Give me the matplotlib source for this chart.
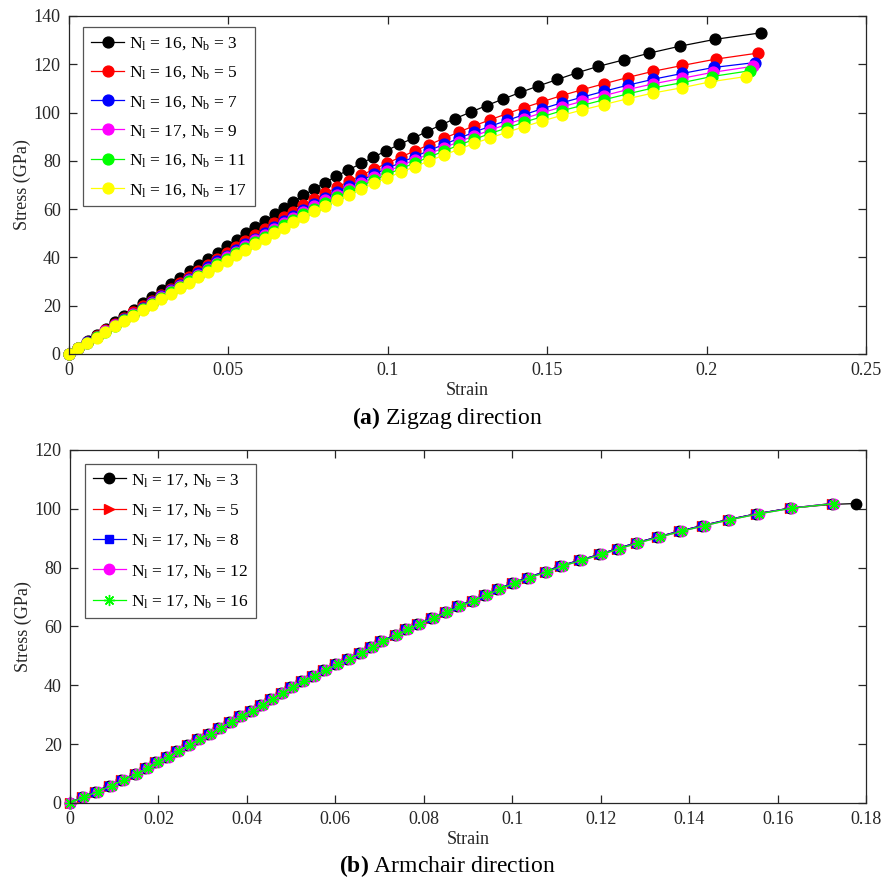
import matplotlib
matplotlib.use("Agg")
import matplotlib.pyplot as plt
from matplotlib.ticker import FuncFormatter, MultipleLocator

plt.rcParams['font.family'] = ['Liberation Serif', 'DejaVu Serif']
plt.rcParams['mathtext.fontset'] = 'custom'
plt.rcParams['mathtext.rm'] = 'Liberation Serif'
plt.rcParams['mathtext.it'] = 'Liberation Serif:italic'
plt.rcParams['mathtext.bf'] = 'Liberation Serif:bold'

# ---------------- (a) zigzag direction ----------------
zz_labels = [r'$\mathrm{N_l}$ = 16, $\mathrm{N_b}$ = 3',
             r'$\mathrm{N_l}$ = 16, $\mathrm{N_b}$ = 5',
             r'$\mathrm{N_l}$ = 16, $\mathrm{N_b}$ = 7',
             r'$\mathrm{N_l}$ = 17, $\mathrm{N_b}$ = 9',
             r'$\mathrm{N_l}$ = 16, $\mathrm{N_b}$ = 11',
             r'$\mathrm{N_l}$ = 16, $\mathrm{N_b}$ = 17']
zz_colors = ['black', 'red', 'blue', 'magenta', '#00ff00', 'yellow']

zz_strain_nb3 = [0, 0.00284, 0.00580, 0.00866, 0.01152, 0.01438, 0.01736, 0.02024, 0.02313,
                 0.02612, 0.02901, 0.03191, 0.03481, 0.03783, 0.04074, 0.04366, 0.04658,
                 0.04963, 0.05256, 0.05551, 0.05845, 0.06152, 0.06447, 0.06743, 0.07041,
                 0.07349, 0.0769, 0.0803, 0.0838, 0.0876, 0.0916, 0.0955, 0.0994, 0.1036,
                 0.1080, 0.1122, 0.1166, 0.1211, 0.1261, 0.1310, 0.1362, 0.1415, 0.1472,
                 0.1532, 0.1592, 0.1660, 0.1740, 0.1820, 0.1917, 0.2026, 0.2170]
zz_stress_nb3 = [0, 2.6, 5.3, 7.9, 10.5, 13.1, 15.8, 18.4, 21.0, 23.7, 26.3, 28.9, 31.5,
                 34.2, 36.8, 39.4, 42.0, 44.7, 47.3, 49.9, 52.5, 55.2, 57.8, 60.4, 63.0,
                 65.7, 68.3, 71.0, 73.6, 76.2, 78.9, 81.5, 84.1, 86.8, 89.4, 92.1, 94.8,
                 97.5, 100.2, 102.9, 105.6, 108.3, 111.0, 113.7, 116.4, 119.1, 121.8,
                 124.6, 127.5, 130.3, 133.0]

# strains shared by the Nb = 5 ... 17 curves (up to the last two points)
zz_strain_base = [0, 0.00291, 0.00571, 0.00863, 0.01144, 0.01437, 0.01731, 0.02014, 0.02309,
                  0.02593, 0.02889, 0.03186, 0.03472, 0.03770, 0.04057, 0.04356, 0.04656,
                  0.04944, 0.05246, 0.05535, 0.05838, 0.06141, 0.06432, 0.06736, 0.07029,
                  0.0733, 0.0767, 0.0803, 0.0840, 0.0878, 0.0917, 0.0958, 0.0999, 0.1041,
                  0.1085, 0.1130, 0.1176, 0.1223, 0.1271, 0.1321, 0.1373, 0.1427, 0.1485,
                  0.1545, 0.1608, 0.1678, 0.1752, 0.1833, 0.1924]
zz_strain_nb5 = zz_strain_base + [0.2028, 0.2160]
zz_strain_nb7 = zz_strain_base + [0.2024, 0.2152]
zz_strain_nb9 = zz_strain_base + [0.2021, 0.2144]
zz_strain_nb11 = zz_strain_base + [0.2016, 0.2136]
zz_strain_nb17 = zz_strain_base + [0.2011, 0.2123]

zz_stress_nb5 = [0, 2.5, 4.9, 7.4, 9.8, 12.3, 14.8, 17.2, 19.7, 22.1, 24.6, 27.1, 29.5, 32.0,
                 34.4, 36.9, 39.4, 41.8, 44.3, 46.7, 49.2, 51.7, 54.1, 56.6, 59.0, 61.5,
                 64.0, 66.5, 69.0, 71.5, 74.0, 76.6, 79.1, 81.6, 84.1, 86.7, 89.3, 91.9,
                 94.5, 97.0, 99.5, 102.0, 104.5, 107.0, 109.4, 111.9, 114.5, 117.1, 119.5,
                 122.1, 124.6]
zz_stress_nb7 = [0, 2.4, 4.8, 7.2, 9.5, 12.0, 14.4, 16.7, 19.1, 21.5, 23.9, 26.3, 28.7, 31.1,
                 33.4, 35.9, 38.3, 40.6, 43.1, 45.4, 47.8, 50.3, 52.6, 55.0, 57.3, 59.8,
                 62.2, 64.6, 67.1, 69.5, 71.9, 74.5, 76.9, 79.3, 81.7, 84.3, 86.8, 89.3,
                 91.9, 94.3, 96.7, 99.1, 101.6, 104.0, 106.3, 108.8, 111.3, 113.8, 116.2,
                 118.7, 120.7]
zz_stress_nb9 = [0, 2.4, 4.7, 7.1, 9.4, 11.8, 14.1, 16.4, 18.8, 21.1, 23.5, 25.9, 28.2, 30.6,
                 32.9, 35.3, 37.7, 40.0, 42.4, 44.6, 47.0, 49.4, 51.7, 54.1, 56.4, 58.8,
                 61.2, 63.6, 66.0, 68.4, 70.7, 73.2, 75.6, 78.0, 80.4, 82.9, 85.4, 87.9,
                 90.3, 92.7, 95.1, 97.5, 99.9, 102.3, 104.6, 107.0, 109.5, 111.9, 114.2,
                 116.7, 119.1]
zz_stress_nb11 = [0, 2.4, 4.6, 7.0, 9.2, 11.6, 13.9, 16.2, 18.5, 20.8, 23.1, 25.5, 27.8, 30.1,
                  32.4, 34.7, 37.1, 39.3, 41.7, 43.9, 46.3, 48.6, 50.9, 53.3, 55.5, 57.9,
                  60.2, 62.6, 64.9, 67.3, 69.6, 72.1, 74.4, 76.8, 79.1, 81.6, 84.0, 86.5,
                  88.9, 91.3, 93.6, 96.0, 98.3, 100.7, 102.9, 105.3, 107.7, 110.2, 112.4,
                  114.9, 117.3]
zz_stress_nb17 = [0, 2.3, 4.5, 6.8, 9.0, 11.4, 13.7, 15.9, 18.2, 20.4, 22.7, 25.0, 27.2, 29.5,
                  31.8, 34.1, 36.4, 38.6, 40.9, 43.1, 45.4, 47.7, 49.9, 52.2, 54.5, 56.8,
                  59.1, 61.4, 63.7, 66.0, 68.3, 70.7, 73.0, 75.3, 77.6, 80.0, 82.4, 84.8,
                  87.2, 89.5, 91.8, 94.1, 96.5, 98.8, 101.0, 103.3, 105.7, 108.1, 110.3,
                  112.7, 114.9]

zz_strains = [zz_strain_nb3, zz_strain_nb5, zz_strain_nb7, zz_strain_nb9, zz_strain_nb11, zz_strain_nb17]
zz_stresses = [zz_stress_nb3, zz_stress_nb5, zz_stress_nb7, zz_stress_nb9, zz_stress_nb11, zz_stress_nb17]

# ---------------- (b) armchair direction ----------------
ac_labels = [r'$\mathrm{N_l}$ = 17, $\mathrm{N_b}$ = 3',
             r'$\mathrm{N_l}$ = 17, $\mathrm{N_b}$ = 5',
             r'$\mathrm{N_l}$ = 17, $\mathrm{N_b}$ = 8',
             r'$\mathrm{N_l}$ = 17, $\mathrm{N_b}$ = 12',
             r'$\mathrm{N_l}$ = 17, $\mathrm{N_b}$ = 16']
ac_colors = ['black', 'red', 'blue', 'magenta', '#00ff00']
ac_markers = ['o', '>', 's', 'o', (8, 2, 0)]
ac_msizes = [7.5, 7.5, 5.5, 7.5, 8]

ac_strain = [0, 0.0032, 0.0063, 0.0095, 0.0122, 0.0152, 0.0176, 0.0199, 0.0224, 0.0246,
             0.0271, 0.0294, 0.0319, 0.0341, 0.0366, 0.0389, 0.0414, 0.0436, 0.0459, 0.0482,
             0.0504, 0.0529, 0.0554, 0.0579, 0.0606, 0.0633, 0.0660, 0.0685, 0.0708, 0.0740,
             0.0764, 0.0791, 0.0823, 0.0853, 0.0882, 0.0914, 0.0943, 0.0972, 0.1006, 0.1040,
             0.1079, 0.1115, 0.1158, 0.1203, 0.1244, 0.1285, 0.1334, 0.1384, 0.1436, 0.1493,
             0.1558, 0.1633, 0.1728]
ac_strain_left = [0, 0.0027, 0.0057, 0.0089, 0.0116, 0.0146, 0.0170, 0.0193, 0.0218, 0.0240,
                  0.0265, 0.0288, 0.0313, 0.0335, 0.0360, 0.0383, 0.0408, 0.0430, 0.0453, 0.0476,
                  0.0498, 0.0523, 0.0548, 0.0573, 0.0600, 0.0627, 0.0654, 0.0679, 0.0702, 0.0734,
                  0.0758, 0.0785, 0.0817, 0.0847, 0.0876, 0.0908, 0.0937, 0.0966, 0.1000, 0.1034,
                  0.1073, 0.1109, 0.1152, 0.1197, 0.1238, 0.1279, 0.1328, 0.1378, 0.1430, 0.1487,
                  0.1552, 0.1627, 0.1722]
ac_stress = [0, 2.0, 3.9, 5.9, 7.9, 9.8, 11.8, 13.8, 15.7, 17.7, 19.7, 21.6, 23.6, 25.5,
             27.5, 29.5, 31.4, 33.4, 35.4, 37.3, 39.3, 41.3, 43.2, 45.2, 47.2, 49.1, 51.1,
             53.1, 55.0, 57.0, 59.0, 60.9, 62.9, 64.8, 66.8, 68.8, 70.7, 72.7, 74.7, 76.6,
             78.6, 80.6, 82.5, 84.5, 86.5, 88.4, 90.4, 92.4, 94.3, 96.3, 98.3, 100.2, 101.8]

ac_strain_nb3 = ac_strain_left + [0.1777]
ac_stress_nb3 = ac_stress[:-1] + [101.5, 101.8]
ac_strains = [ac_strain_nb3, ac_strain_left, ac_strain_left, ac_strain, ac_strain]
ac_stresses = [ac_stress_nb3, ac_stress, ac_stress, ac_stress, ac_stress]

fmt = FuncFormatter(lambda v, p: '%g' % round(v, 4))
axcol = '#262626'


def style_axes(ax, xmax, xstep, ymax):
    ax.set_xlim(0, xmax)
    ax.set_ylim(0, ymax)
    ax.xaxis.set_major_locator(MultipleLocator(xstep))
    ax.yaxis.set_major_locator(MultipleLocator(20))
    ax.xaxis.set_major_formatter(fmt)
    ax.tick_params(direction='in', top=True, right=True, length=6, width=0.9,
                   labelsize=13, colors=axcol, pad=6)
    for s in ax.spines.values():
        s.set_linewidth(0.9)
        s.set_color(axcol)
    ax.set_xlabel('Strain', fontsize=13, color=axcol, labelpad=2)
    ax.set_ylabel('Stress (GPa)', fontsize=13, color=axcol, labelpad=2)


fig = plt.figure(figsize=(8.94, 8.86), dpi=100)
ax1 = fig.add_axes([0.0772, 0.6005, 0.8915, 0.3815])
ax2 = fig.add_axes([0.0783, 0.0937, 0.8904, 0.3984])

for x, y, c, lab in zip(zz_strains, zz_stresses, zz_colors, zz_labels):
    ax1.plot(x, y, '-o', color=c, mfc=c, mec=c, ms=7.8, lw=0.9, label=lab, clip_on=False)
style_axes(ax1, 0.25, 0.05, 140)
leg1 = ax1.legend(loc='upper left', bbox_to_anchor=(0.018, 0.966), fontsize=12.5,
                  fancybox=False, edgecolor='#555555', framealpha=1, handlelength=1.9,
                  labelspacing=0.72, borderpad=0.45, handletextpad=0.3, borderaxespad=0)
leg1.get_frame().set_linewidth(0.9)

for x, y, c, m, s, lab in zip(ac_strains, ac_stresses, ac_colors, ac_markers, ac_msizes, ac_labels):
    ax2.plot(x, y, '-', marker=m, color=c, mfc=c, mec=c, ms=s, lw=0.9, label=lab, clip_on=False)
style_axes(ax2, 0.18, 0.02, 120)
leg2 = ax2.legend(loc='upper left', bbox_to_anchor=(0.019, 0.96), fontsize=12.5,
                  fancybox=False, edgecolor='#555555', framealpha=1, handlelength=1.9,
                  labelspacing=0.78, borderpad=0.45, handletextpad=0.3, borderaxespad=0)
leg2.get_frame().set_linewidth(0.9)

fig.text(0.5, 0.528, r'$\mathbf{(a)}$ Zigzag direction', ha='center', va='center', fontsize=17)
fig.text(0.5, 0.022, r'$\mathbf{(b)}$ Armchair direction', ha='center', va='center', fontsize=17)

fig.savefig('out.png', dpi=100)
